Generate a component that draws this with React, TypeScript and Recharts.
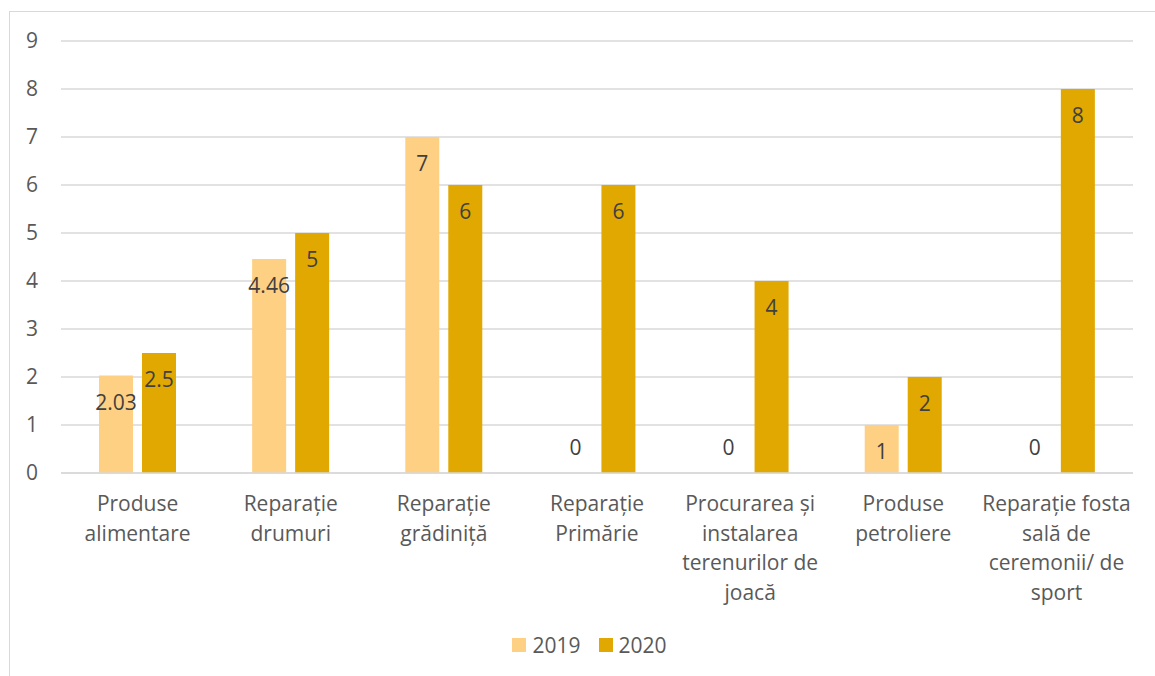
import type { FC, ReactNode } from 'react'
import {
    BarChart,
    Bar,
    XAxis,
    YAxis,
    CartesianGrid,
    Legend,
    LabelList
} from 'recharts'

const CATEGORIES: string[] = [
    'Produse\nalimentare',
    'Reparație\ndrumuri',
    'Reparație\ngrădiniță',
    'Reparație\nPrimărie',
    'Procurarea și\ninstalarea\nterenurilor de\njoacă',
    'Produse\npetroliere',
    'Reparație fosta\nsală de\nceremonii/ de\nsport'
]
const VALUES_2019: number[] = [2.03, 4.46, 7, 0, 0, 1, 0]
const VALUES_2020: number[] = [2.5, 5, 6, 6, 4, 2, 8]
const Y_TICKS: number[] = [0, 1, 2, 3, 4, 5, 6, 7, 8, 9]

const SERIES = [
    { key: 'y2019', name: '2019', color: '#FED083' },
    { key: 'y2020', name: '2020', color: '#E0A800' }
]

const chartData = CATEGORIES.map((name, i) => ({
    name,
    y2019: VALUES_2019[i],
    y2020: VALUES_2020[i]
}))

const FONT = "'Open Sans', sans-serif"
const AXIS_TEXT = '#595959'
const GRID = '#d9d9d9'

const CategoryTick = (props: any): ReactNode => {
    const { x, y, payload } = props
    const lines = String(payload.value).split('\n')
    return (
        <text
            x={x}
            y={y + 38}
            textAnchor='middle'
            fill={AXIS_TEXT}
            fontSize={21}
            fontFamily={FONT}
        >
            {lines.map((line, i) => (
                <tspan key={i} x={x} dy={i === 0 ? 0 : 29.5}>
                    {line}
                </tspan>
            ))}
        </text>
    )
}

const ValueLabel = (props: any): ReactNode => {
    const { x, y, width, height, value } = props
    const isZero = Number(value) === 0 || Math.abs(height) < 1
    const baseline = isZero ? y - 18 : y + 34
    return (
        <text
            x={x + width / 2}
            y={baseline}
            textAnchor='middle'
            fill='#404040'
            fontSize={21}
            fontFamily={FONT}
        >
            {value}
        </text>
    )
}

const LegendContent = (): ReactNode => (
    <div
        style={{
            display: 'flex',
            justifyContent: 'center',
            alignItems: 'center',
            fontFamily: FONT,
            fontSize: 21,
            color: AXIS_TEXT,
            lineHeight: '28px',
            paddingLeft: 24
        }}
    >
        {SERIES.map((s) => (
            <div
                key={s.key}
                style={{ display: 'flex', alignItems: 'center', margin: '0 9px' }}
            >
                <span
                    style={{
                        width: 14,
                        height: 14,
                        background: s.color,
                        marginRight: 6,
                        display: 'inline-block'
                    }}
                />
                <span>{s.name}</span>
            </div>
        ))}
    </div>
)

const App: FC = (): ReactNode => {
    return (
        <div
            style={{
                position: 'absolute',
                left: 0,
                top: 0,
                width: 1155,
                height: 676,
                overflow: 'hidden',
                background: '#fff',
                fontFamily: FONT
            }}
        >
            <div
                style={{
                    position: 'absolute',
                    left: 9,
                    top: 11,
                    width: 1170,
                    height: 700,
                    border: `1.5px solid ${GRID}`,
                    boxSizing: 'border-box'
                }}
            />
            <div style={{ position: 'absolute', left: 0, top: 0 }}>
                <BarChart
                    width={1155}
                    height={676}
                    data={chartData}
                    margin={{ top: 41, right: 22, bottom: 45, left: 0 }}
                    barSize={34}
                    barGap={9}
                >
                    <CartesianGrid
                        vertical={false}
                        stroke={GRID}
                        strokeWidth={1.3}
                    />
                    <XAxis
                        dataKey='name'
                        interval={0}
                        height={130}
                        tickSize={0}
                        tickMargin={0}
                        tick={<CategoryTick />}
                        axisLine={{ stroke: GRID, strokeWidth: 1.3 }}
                        tickLine={false}
                    />
                    <YAxis
                        domain={[0, 9]}
                        ticks={Y_TICKS}
                        width={61}
                        tickSize={0}
                        tickMargin={23}
                        axisLine={false}
                        tickLine={false}
                        tick={{
                            fontSize: 21,
                            fill: AXIS_TEXT,
                            fontFamily: FONT
                        }}
                    />
                    <Legend
                        verticalAlign='bottom'
                        content={<LegendContent />}
                        wrapperStyle={{ left: 0, width: 1155, top: 631 }}
                    />
                    {SERIES.map((s) => (
                        <Bar
                            key={s.key}
                            dataKey={s.key}
                            name={s.name}
                            fill={s.color}
                            minPointSize={0.01}
                            isAnimationActive={false}
                        >
                            <LabelList dataKey={s.key} content={<ValueLabel />} />
                        </Bar>
                    ))}
                </BarChart>
            </div>
        </div>
    )
}

export default App
